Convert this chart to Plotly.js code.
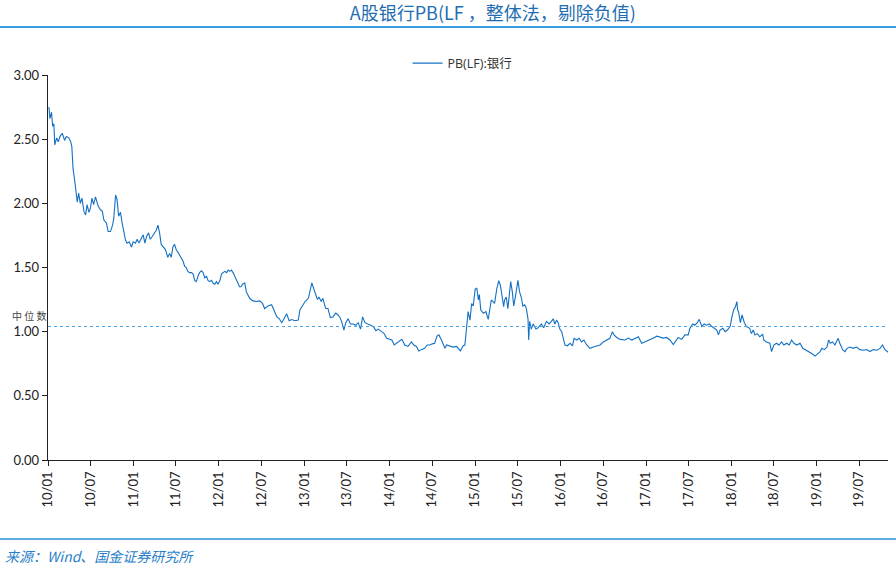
<!DOCTYPE html>
<html>
<head>
<meta charset="utf-8">
<script src="https://cdn.plot.ly/plotly-3.0.1.min.js"></script>
<style>html,body{margin:0;padding:0;background:#fff;}#chart{width:896px;height:565px;}</style>
</head>
<body>
<div id="chart"></div>
<script>
const dates = [
"2010-01-05","2010-01-09","2010-01-16","2010-01-21","2010-01-26","2010-01-30","2010-02-07","2010-02-14","2010-02-21","2010-03-03",
"2010-03-13","2010-03-20","2010-03-31","2010-04-08","2010-04-13","2010-04-18","2010-04-25","2010-05-02","2010-05-06","2010-05-12",
"2010-05-19","2010-05-26","2010-06-04","2010-06-11","2010-06-17","2010-06-25","2010-07-01","2010-07-08","2010-07-15","2010-07-23",
"2010-08-03","2010-08-13","2010-08-21","2010-08-28","2010-09-08","2010-09-15","2010-09-25","2010-10-04","2010-10-09","2010-10-17",
"2010-10-23","2010-10-30","2010-11-07","2010-11-14","2010-11-21","2010-11-28","2010-12-05","2010-12-14","2010-12-24","2010-12-31",
"2011-01-10","2011-01-17","2011-01-25","2011-02-03","2011-02-12","2011-02-19","2011-02-26","2011-03-07","2011-03-14","2011-03-22",
"2011-04-02","2011-04-09","2011-04-16","2011-04-23","2011-04-30","2011-05-10","2011-05-18","2011-05-28","2011-06-05","2011-06-12",
"2011-06-19","2011-06-26","2011-07-03","2011-07-10","2011-07-17","2011-07-25","2011-08-01","2011-08-08","2011-08-15","2011-08-22",
"2011-08-29","2011-09-06","2011-09-13","2011-09-20","2011-09-27","2011-10-04","2011-10-11","2011-10-19","2011-10-26","2011-11-02",
"2011-11-10","2011-11-16","2011-11-23","2011-12-01","2011-12-08","2011-12-15","2011-12-22","2011-12-29","2012-01-06","2012-01-13",
"2012-01-20","2012-01-27","2012-02-04","2012-02-10","2012-02-17","2012-02-24","2012-03-02","2012-03-09","2012-03-16","2012-03-23",
"2012-03-30","2012-04-05","2012-04-12","2012-04-21","2012-04-28","2012-05-12","2012-05-26","2012-06-10","2012-06-24","2012-07-06",
"2012-07-15","2012-07-29","2012-08-14","2012-08-21","2012-09-05","2012-09-16","2012-09-26","2012-10-06","2012-10-17","2012-10-28",
"2012-11-08","2012-11-22","2012-12-06","2012-12-13","2012-12-25","2013-01-04","2013-01-18","2013-01-25","2013-02-02","2013-02-09",
"2013-02-16","2013-02-26","2013-03-04","2013-03-14","2013-03-21","2013-04-02","2013-04-12","2013-04-22","2013-05-03","2013-05-15",
"2013-05-25","2013-06-02","2013-06-09","2013-06-19","2013-06-27","2013-07-07","2013-07-17","2013-07-28","2013-08-09","2013-08-19",
"2013-08-29","2013-09-07","2013-09-17","2013-09-27","2013-10-11","2013-10-22","2013-11-03","2013-11-13","2013-11-27","2013-12-07",
"2013-12-19","2013-12-30","2014-01-10","2014-01-20","2014-01-31","2014-02-11","2014-02-22","2014-03-06","2014-03-20","2014-04-04",
"2014-04-14","2014-04-25","2014-05-05","2014-05-16","2014-05-30","2014-06-10","2014-06-21","2014-07-02","2014-07-12","2014-07-22",
"2014-07-30","2014-08-10","2014-08-20","2014-08-25","2014-09-01","2014-09-15","2014-09-29","2014-10-14","2014-10-20","2014-10-30",
"2014-11-11","2014-11-18","2014-11-26","2014-12-02","2014-12-10","2014-12-17","2014-12-24","2015-01-01","2015-01-08","2015-01-15",
"2015-01-19","2015-01-25","2015-02-05","2015-02-16","2015-02-26","2015-03-04","2015-03-11","2015-03-18","2015-03-25","2015-04-04",
"2015-04-12","2015-04-19","2015-04-26","2015-05-03","2015-05-07","2015-05-14","2015-05-21","2015-05-28","2015-06-02","2015-06-09",
"2015-06-15","2015-06-22","2015-06-29","2015-07-03","2015-07-10","2015-07-17","2015-07-24","2015-08-01","2015-08-08","2015-08-15",
"2015-08-18","2015-08-22","2015-08-29","2015-09-06","2015-09-18","2015-09-27","2015-10-11","2015-10-21","2015-11-02","2015-11-13",
"2015-11-23","2015-12-01","2015-12-08","2015-12-15","2015-12-22","2015-12-29","2016-01-06","2016-01-13","2016-01-20","2016-01-30",
"2016-02-11","2016-02-21","2016-02-28","2016-03-10","2016-03-21","2016-03-31","2016-04-10","2016-04-22","2016-05-06","2016-05-20",
"2016-06-04","2016-06-18","2016-07-02","2016-07-16","2016-07-30","2016-08-10","2016-08-17","2016-08-28","2016-09-12","2016-10-03",
"2016-10-17","2016-11-01","2016-11-15","2016-11-29","2016-12-13","2016-12-27","2017-01-18","2017-02-02","2017-02-16","2017-03-01",
"2017-03-15","2017-03-29","2017-04-13","2017-04-27","2017-05-08","2017-05-18","2017-06-02","2017-06-16","2017-06-30","2017-07-07",
"2017-07-19","2017-07-28","2017-08-08","2017-08-16","2017-08-27","2017-09-06","2017-09-17","2017-09-28","2017-10-09","2017-10-18",
"2017-10-30","2017-11-06","2017-11-13","2017-11-25","2017-12-05","2017-12-14","2017-12-26","2018-01-03","2018-01-10","2018-01-17",
"2018-01-24","2018-01-27","2018-01-31","2018-02-08","2018-02-15","2018-02-25","2018-03-06","2018-03-20","2018-03-27","2018-04-04",
"2018-04-11","2018-04-21","2018-05-02","2018-05-14","2018-05-19","2018-05-30","2018-06-14","2018-06-21","2018-07-01","2018-07-12",
"2018-07-23","2018-08-03","2018-08-13","2018-08-25","2018-09-05","2018-09-15","2018-09-25","2018-10-07","2018-10-21","2018-11-02",
"2018-11-12","2018-11-26","2018-12-10","2018-12-24","2019-01-04","2019-01-15","2019-01-22","2019-02-02","2019-02-13","2019-02-20",
"2019-02-27","2019-03-09","2019-03-19","2019-03-26","2019-04-02","2019-04-09","2019-04-21","2019-05-01","2019-05-10","2019-05-22",
"2019-06-05","2019-06-20","2019-07-04","2019-07-18","2019-08-02","2019-08-16","2019-08-30","2019-09-14","2019-09-28","2019-10-09",
"2019-10-19","2019-11-02"
];
const pbBank = [
2.75,2.66,2.71,2.60,2.62,2.455,2.51,2.48,2.52,2.546,
2.49,2.52,2.51,2.48,2.44,2.27,2.18,2.08,2.01,2.08,
2.00,2.04,1.935,1.91,1.99,1.93,1.96,2.04,1.99,2.05,
1.98,1.95,1.94,1.87,1.845,1.78,1.78,1.83,1.88,2.065,
2.03,1.90,1.93,1.845,1.78,1.715,1.69,1.70,1.66,1.70,
1.69,1.72,1.69,1.73,1.755,1.69,1.74,1.77,1.72,1.74,
1.77,1.79,1.83,1.77,1.68,1.66,1.64,1.58,1.61,1.58,
1.66,1.68,1.64,1.62,1.60,1.57,1.55,1.51,1.50,1.47,
1.46,1.46,1.45,1.40,1.39,1.43,1.46,1.475,1.46,1.42,
1.43,1.40,1.39,1.40,1.377,1.37,1.39,1.37,1.40,1.45,
1.46,1.47,1.46,1.48,1.47,1.48,1.46,1.43,1.40,1.37,
1.35,1.35,1.37,1.38,1.31,1.26,1.24,1.235,1.24,1.22,
1.18,1.20,1.21,1.18,1.117,1.10,1.07,1.10,1.14,1.085,
1.095,1.085,1.09,1.17,1.21,1.235,1.26,1.325,1.38,1.34,
1.30,1.25,1.27,1.235,1.26,1.18,1.18,1.11,1.115,1.145,
1.13,1.11,1.08,1.013,1.07,1.10,1.06,1.06,1.05,1.07,
1.02,1.115,1.07,1.06,1.05,1.04,1.008,1.02,1.00,0.987,
0.948,0.94,0.935,0.896,0.91,0.92,0.94,0.896,0.885,0.92,
0.896,0.885,0.85,0.86,0.87,0.896,0.896,0.905,0.91,0.966,
0.975,0.935,0.896,0.87,0.896,0.89,0.88,0.885,0.87,0.85,
0.89,0.896,1.04,1.156,1.09,1.22,1.20,1.33,1.34,1.247,
1.29,1.17,1.143,1.156,1.096,1.156,1.247,1.235,1.22,1.338,
1.397,1.36,1.26,1.195,1.247,1.27,1.18,1.30,1.39,1.31,
1.20,1.27,1.36,1.40,1.31,1.27,1.20,1.21,1.18,1.10,
0.935,1.08,1.02,1.06,1.02,1.03,1.06,1.03,1.08,1.06,
1.08,1.10,1.06,1.09,1.07,1.02,1.00,0.948,0.896,0.89,
0.91,0.89,0.948,0.935,0.948,0.92,0.935,0.896,0.87,0.88,
0.89,0.896,0.92,0.935,0.948,1.00,0.975,0.955,0.94,0.935,
0.95,0.935,0.95,0.96,0.91,0.92,0.935,0.95,0.965,0.96,
0.95,0.955,0.935,0.90,0.935,0.955,0.94,0.975,0.975,1.026,
1.06,1.05,1.07,1.096,1.04,1.06,1.05,1.06,1.04,1.026,
1.013,0.975,1.013,1.026,1.00,1.013,1.04,1.117,1.17,1.19,
1.234,1.17,1.156,1.07,1.13,1.07,1.04,1.026,0.985,1.013,
0.975,0.985,0.96,0.98,0.935,0.92,0.91,0.845,0.896,0.91,
0.896,0.92,0.896,0.91,0.896,0.935,0.91,0.896,0.91,0.87,
0.86,0.845,0.83,0.81,0.825,0.845,0.87,0.86,0.88,0.935,
0.91,0.92,0.896,0.92,0.948,0.91,0.86,0.845,0.87,0.88,
0.87,0.88,0.86,0.855,0.86,0.845,0.86,0.855,0.87,0.896,
0.86,0.84
];
const medianValue = 1.04;
const tickDates = ["2010-01-01","2010-07-01","2011-01-01","2011-07-01","2012-01-01","2012-07-01","2013-01-01","2013-07-01","2014-01-01","2014-07-01",
"2015-01-01","2015-07-01","2016-01-01","2016-07-01","2017-01-01","2017-07-01","2018-01-01","2018-07-01","2019-01-01","2019-07-01"];
const tickLabels = ["10/01","10/07","11/01","11/07","12/01","12/07","13/01","13/07","14/01","14/07",
"15/01","15/07","16/01","16/07","17/01","17/07","18/01","18/07","19/01","19/07"];
const yTicks = [0,0.5,1,1.5,2,2.5,3];
const seriesName = "PB(LF):银行";
const chartTitle = "A股银行PB(LF ，整体法，剔除负值)";
const sourceText = "来源：Wind、国金证券研究所";
const medianLabel = "中 位 数";

const tickFont = {family: "Lato, 'Liberation Sans', sans-serif", size: 13, color: "#222"};

const traces = [{
  x: dates, y: pbBank, type: "scatter", mode: "lines", name: seriesName,
  line: {color: "#1470c4", width: 1.1}
}];

const layout = {
  width: 896, height: 565,
  margin: {l: 48, r: 8, t: 75, b: 105},
  paper_bgcolor: "#fff", plot_bgcolor: "#fff",
  showlegend: true,
  legend: {x: 0.428, y: 1.03, xanchor: "left", yanchor: "middle", orientation: "h",
    font: {family: "'Open Sans', 'Noto Sans CJK SC', sans-serif", size: 12.5, color: "#333"},
    bgcolor: "rgba(0,0,0,0)"},
  title: {text: chartTitle, x: 0.55, xanchor: "center", yref: "container", y: 1 - 14/565, yanchor: "middle",
    font: {family: "'Noto Sans CJK SC', sans-serif", size: 18, color: "#1f6db3"}},
  xaxis: {type: "date", range: ["2010-01-01", "2019-11-01"],
    tickmode: "array", tickvals: tickDates, ticktext: tickLabels, tickangle: -90,
    ticks: "outside", ticklen: 5, tickcolor: "#222", showline: true, linecolor: "#222", linewidth: 1.3,
    showgrid: false, zeroline: false, tickfont: tickFont},
  yaxis: {range: [0, 3], tickmode: "array", tickvals: yTicks, tickformat: ".2f",
    ticks: "outside", ticklen: 5, tickcolor: "#222", showline: true, linecolor: "#222", linewidth: 1.3,
    showgrid: false, zeroline: false, tickfont: tickFont},
  shapes: [
    {type: "line", xref: "paper", yref: "y", x0: 0, x1: 1, y0: medianValue, y1: medianValue,
     line: {color: "#4aa3e6", width: 1, dash: "dot"}},
    {type: "line", xref: "paper", yref: "paper", x0: -48/840, x1: 1 + 8/840, y0: 1.1247, y1: 1.1247,
     line: {color: "#3b9de0", width: 2}},
    {type: "line", xref: "paper", yref: "paper", x0: -48/840, x1: 1 + 8/840, y0: -0.2052, y1: -0.2052,
     line: {color: "#2a8fd6", width: 1.5}}
  ],
  annotations: [
    {text: medianLabel, xref: "paper", yref: "y", x: -38/840, y: medianValue + 0.01, xanchor: "left", yanchor: "bottom",
     showarrow: false, font: {family: "'Noto Sans CJK SC', serif", size: 10, color: "#444"}},
    {text: "<i>" + sourceText + "</i>", xref: "paper", yref: "paper", x: -48/840 + 3/840, y: -0.249,
     xanchor: "left", yanchor: "middle", showarrow: false,
     font: {family: "'Noto Sans CJK SC', 'Open Sans', sans-serif", size: 14, color: "#2a7fc8"}}
  ]
};

Plotly.newPlot("chart", traces, layout, {displayModeBar: false, staticPlot: true});
</script>
</body>
</html>
